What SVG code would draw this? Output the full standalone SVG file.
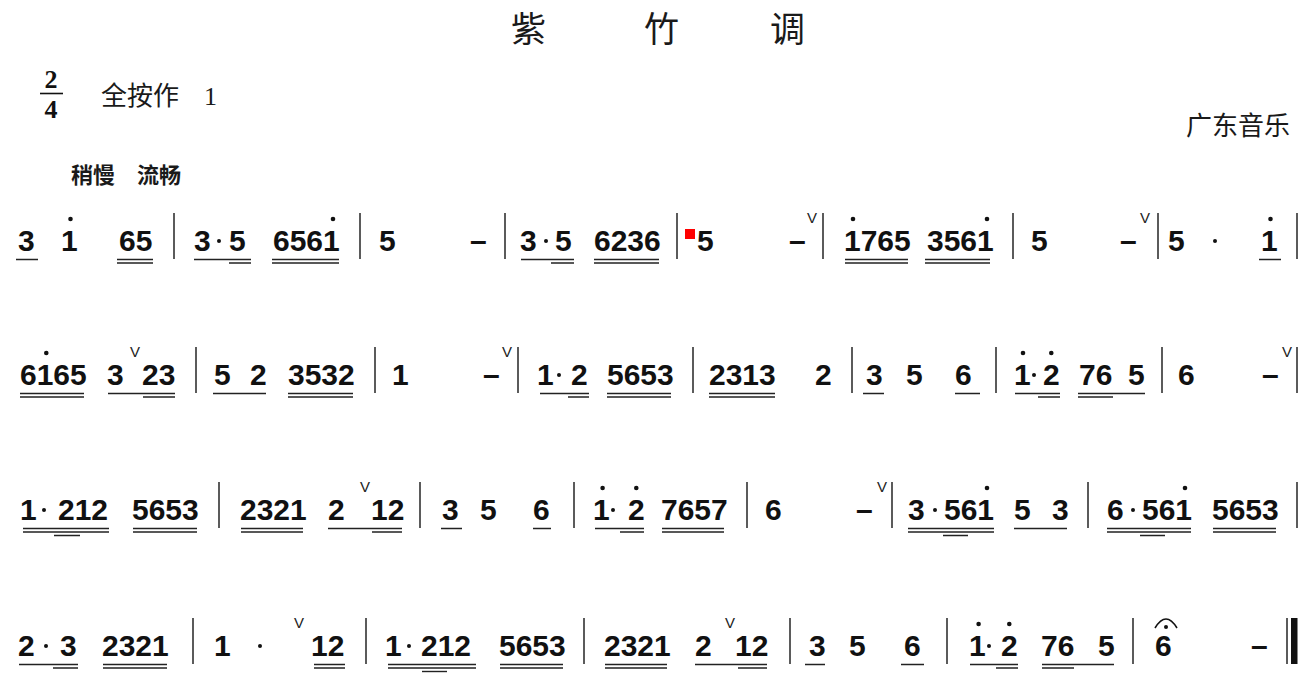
<svg xmlns="http://www.w3.org/2000/svg" width="1316" height="684" viewBox="0 0 1316 684">
<style>
.n{font-family:"Liberation Sans",Arial,sans-serif;font-weight:bold;font-size:30px;fill:#111}
.v{font-family:"Liberation Sans",Arial,sans-serif;font-size:15px;fill:#222}
.cj{font-family:"Noto Sans CJK SC","Noto Sans",sans-serif;fill:#1a1a1a}
.ts{font-family:"Liberation Serif",serif;font-weight:bold;font-size:26px;fill:#111}
.bar{stroke:#333;stroke-width:1.6;fill:none}
.ul{stroke:#222;stroke-width:1.4;fill:none}
.d{fill:#111}
</style>
<rect width="1316" height="684" fill="#fff"/>
<g id="header">
<text class="cj" x="511" y="42" font-size="35">紫</text>
<text class="cj" x="644" y="42" font-size="35">竹</text>
<text class="cj" x="770" y="42" font-size="35">调</text>
<text class="ts" x="51" y="88" text-anchor="middle">2</text>
<line x1="40" y1="93.5" x2="63" y2="93.5" stroke="#111" stroke-width="1.6"/>
<text class="ts" x="51" y="118" text-anchor="middle">4</text>
<text class="cj" x="101" y="105" font-size="26">全按作 <tspan x="204" font-family="Liberation Serif,serif">1</tspan></text>
<text class="cj" x="1186" y="135" font-size="26">广东音乐</text>
<text class="cj" x="71" y="183" font-size="22" font-weight="bold">稍慢 <tspan x="137">流畅</tspan></text>
</g>
<g id="line1">
<text class="n" x="18" y="251">3</text>
<text class="n" x="61" y="251">1</text>
<text class="n" x="119" y="251">65</text>
<text class="n" x="194" y="251">3</text>
<text class="n" x="229" y="251">5</text>
<text class="n" x="273" y="251">6561</text>
<text class="n" x="379" y="251">5</text>
<text class="n" x="470" y="251">–</text>
<text class="n" x="520" y="251">3</text>
<text class="n" x="555" y="251">5</text>
<text class="n" x="594" y="251">6236</text>
<rect x="685" y="229" width="10" height="10" fill="#f00"/>
<text class="n" x="697" y="251">5</text>
<text class="n" x="789" y="251">–</text>
<text class="v" x="807" y="223">V</text>
<text class="n" x="844" y="251">1765</text>
<text class="n" x="927" y="251">3561</text>
<text class="n" x="1031" y="251">5</text>
<text class="n" x="1120" y="251">–</text>
<text class="v" x="1140" y="223">V</text>
<text class="n" x="1168" y="251">5</text>
<text class="n" x="1261" y="251">1</text>
<path class="bar" d="M174,213V259M360,213V259M505,213V259M677,213V259M823,213V259M1013,213V259M1158,213V259M1297,213V259"/>
<path class="ul" d="M16,259.5H38M117,259.5H153M194,259.5H251M272,259.5H339M521,259.5H574M594,259.5H659M845,259.5H908M925,259.5H990M1259,259.5H1281"/>
<path class="ul" d="M117,263H153M229,263H251M272,263H339M551,263H574M594,263H659M845,263H908M925,263H990"/>
<g class="d">
<circle cx="70.5" cy="219" r="2.3"/><circle cx="333" cy="219" r="2.3"/><circle cx="853" cy="219" r="2.3"/><circle cx="987" cy="219" r="2.3"/><circle cx="1270.5" cy="219" r="2.3"/>
<circle cx="219" cy="241" r="2"/><circle cx="546" cy="241" r="2"/><circle cx="1215" cy="241" r="2"/>
</g>
</g>
<g id="line2">
<text class="n" x="20" y="385">6165</text>
<text class="n" x="107" y="385">3</text>
<text class="v" x="130" y="357">V</text>
<text class="n" x="142" y="385">23</text>
<text class="n" x="214" y="385">5</text>
<text class="n" x="250" y="385">2</text>
<text class="n" x="288" y="385">3532</text>
<text class="n" x="392" y="385">1</text>
<text class="n" x="483" y="385">–</text>
<text class="v" x="502" y="357">V</text>
<text class="n" x="537" y="385">1</text>
<text class="n" x="571" y="385">2</text>
<text class="n" x="607" y="385">5653</text>
<text class="n" x="709" y="385">2313</text>
<text class="n" x="815" y="385">2</text>
<text class="n" x="866" y="385">3</text>
<text class="n" x="906" y="385">5</text>
<text class="n" x="955" y="385">6</text>
<text class="n" x="1014" y="385">1</text>
<text class="n" x="1043" y="385">2</text>
<text class="n" x="1079" y="385">76</text>
<text class="n" x="1128" y="385">5</text>
<text class="n" x="1178" y="385">6</text>
<text class="n" x="1262" y="385">–</text>
<text class="v" x="1282" y="357">V</text>
<path class="bar" d="M196,347V393M375,347V393M518,347V393M693,347V393M852,347V393M996,347V393M1162,347V393M1297,347V393"/>
<path class="ul" d="M20,393.5H84M108,393.5H175M213,393.5H266M288,393.5H353M540,393.5H589M607,393.5H671M709,393.5H775M863,393.5H884M955,393.5H980M1015,393.5H1060M1078,393.5H1145"/>
<path class="ul" d="M20,397H84M143,397H175M288,397H353M568,397H589M607,397H671M709,397H775M1038,397H1060M1078,397H1113"/>
<g class="d">
<circle cx="46.3" cy="353" r="2.3"/><circle cx="1023" cy="353" r="2.3"/><circle cx="1051.3" cy="353" r="2.3"/>
<circle cx="559" cy="375" r="2"/><circle cx="1034" cy="375" r="2"/>
</g>
</g>
<g id="line3">
<text class="n" x="20" y="520">1</text>
<text class="n" x="58" y="520">212</text>
<text class="n" x="132" y="520">5653</text>
<text class="n" x="240" y="520">2321</text>
<text class="n" x="328" y="520">2</text>
<text class="v" x="360" y="492">V</text>
<text class="n" x="371" y="520">12</text>
<text class="n" x="442" y="520">3</text>
<text class="n" x="480" y="520">5</text>
<text class="n" x="533" y="520">6</text>
<text class="n" x="593" y="520">1</text>
<text class="n" x="628" y="520">2</text>
<text class="n" x="661" y="520">7657</text>
<text class="n" x="765" y="520">6</text>
<text class="n" x="856" y="520">–</text>
<text class="v" x="877" y="492">V</text>
<text class="n" x="908" y="520">3</text>
<text class="n" x="944" y="520">561</text>
<text class="n" x="1014" y="520">5</text>
<text class="n" x="1052" y="520">3</text>
<text class="n" x="1107" y="520">6</text>
<text class="n" x="1142" y="520">561</text>
<text class="n" x="1212" y="520">5653</text>
<path class="bar" d="M219,482V528M420,482V528M574,482V528M747,482V528M892,482V528M1088,482V528M1297,482V528"/>
<path class="ul" d="M23,528.5H109M133,528.5H197M241,528.5H303M328,528.5H402M441,528.5H462M533,528.5H551M595,528.5H644M662,528.5H724M908,528.5H994M1014,528.5H1067M1107,528.5H1191M1213,528.5H1276"/>
<path class="ul" d="M23,532H109M133,532H197M241,532H303M372,532H402M620,532H644M662,532H724M908,532H994M1107,532H1191M1213,532H1276"/>
<path class="ul" d="M54,535.5H80M943,535.5H968M1140,535.5H1165"/>
<g class="d">
<circle cx="602.6" cy="488" r="2.3"/><circle cx="636.3" cy="488" r="2.3"/><circle cx="987" cy="488" r="2.3"/><circle cx="1185" cy="488" r="2.3"/>
<circle cx="44" cy="510" r="2"/><circle cx="613" cy="510" r="2"/><circle cx="935" cy="510" r="2"/><circle cx="1133" cy="510" r="2"/>
</g>
</g>
<g id="line4">
<text class="n" x="18" y="656">2</text>
<text class="n" x="60" y="656">3</text>
<text class="n" x="102" y="656">2321</text>
<text class="n" x="214" y="656">1</text>
<text class="v" x="294" y="628">V</text>
<text class="n" x="311" y="656">12</text>
<text class="n" x="385" y="656">1</text>
<text class="n" x="421" y="656">212</text>
<text class="n" x="499" y="656">5653</text>
<text class="n" x="604" y="656">2321</text>
<text class="n" x="695" y="656">2</text>
<text class="v" x="725" y="628">V</text>
<text class="n" x="735" y="656">12</text>
<text class="n" x="809" y="656">3</text>
<text class="n" x="849" y="656">5</text>
<text class="n" x="904" y="656">6</text>
<text class="n" x="969" y="656">1</text>
<text class="n" x="1001" y="656">2</text>
<text class="n" x="1041" y="656">76</text>
<text class="n" x="1098" y="656">5</text>
<text class="n" x="1155" y="656">6</text>
<path d="M1155,628Q1166,610 1177,628" fill="none" stroke="#111" stroke-width="1.6"/>
<text class="n" x="1251" y="656">–</text>
<path class="bar" d="M193,618V664M366,618V664M584,618V664M790,618V664M947,618V664M1133,618V664M1287,618V664"/>
<rect x="1291" y="618" width="6.5" height="46" fill="#111"/>
<path class="ul" d="M19,664.5H78M103,664.5H167M314,664.5H345M388,664.5H476M500,664.5H563M605,664.5H667M695,664.5H767M805,664.5H825M901,664.5H924M970,664.5H1018M1042,664.5H1114"/>
<path class="ul" d="M53,668H78M103,668H167M314,668H345M388,668H476M500,668H563M605,668H667M738,668H767M996,668H1018M1042,668H1074"/>
<path class="ul" d="M422,671.5H447"/>
<g class="d">
<circle cx="978.6" cy="624" r="2.3"/><circle cx="1009.3" cy="624" r="2.3"/><circle cx="1166" cy="627" r="2"/>
<circle cx="46" cy="646" r="2"/><circle cx="260" cy="646" r="2"/><circle cx="409" cy="646" r="2"/><circle cx="989" cy="646" r="2"/>
</g>
</g>
</svg>
